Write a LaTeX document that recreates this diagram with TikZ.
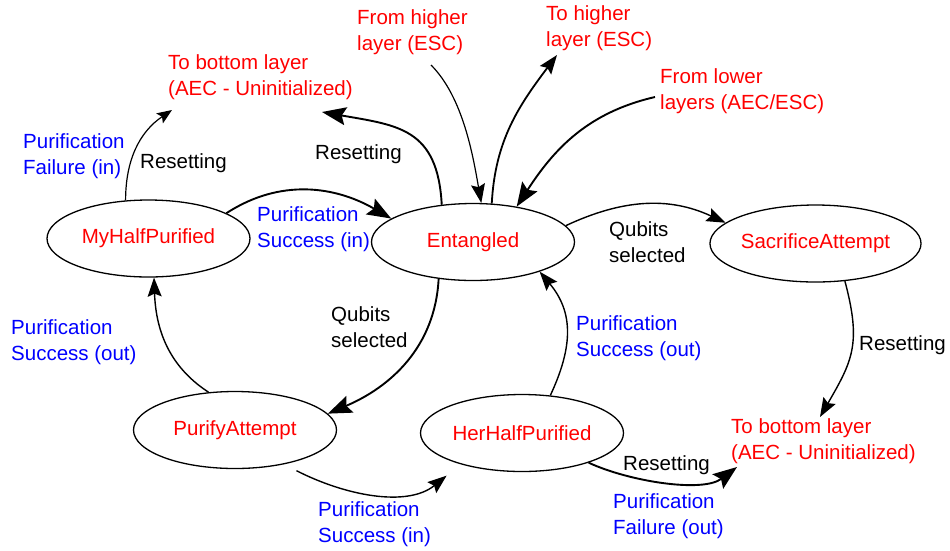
\documentclass[tikz,border=0pt]{standalone}
\usepackage{fontspec}
\setmainfont{Liberation Sans}
\usetikzlibrary{arrows.meta,shapes.geometric}
\begin{document}
\begin{tikzpicture}[x=1pt,y=-1pt,
  every node/.style={font=\fontsize{20.5}{26}\selectfont, inner sep=0pt},
  state/.style={ellipse, draw, line width=1.3pt, text=red,
    minimum width=203pt, minimum height=77pt},
  lbl/.style={anchor=west, align=left},
  ext/.style={lbl, text=red},
  ev/.style={lbl, text=blue},
  act/.style={lbl, text=black},
  light/.style={line width=1.2pt, -{Stealth[length=15pt,width=12pt,inset=3pt]}},
  flow/.style={line width=1.4pt, -{Stealth[length=19pt,width=14pt,inset=3pt]}},
  heavy/.style={line width=1.9pt, -{Stealth[length=24pt,width=18pt,inset=4pt]}}]

\useasboundingbox (0,0) rectangle (950,550);

% states
\node[state] (my)  at (148.5,238.5) {MyHalfPurified};
\node[state] (ent) at (473,242)     {Entangled};
\node[state] (sac) at (815.5,243.5) {SacrificeAttempt};
\node[state] (pa)  at (235,430)     {PurifyAttempt};
\node[state] (hhp) at (522,433)     {HerHalfPurified};

% links to other layers
\node[ext] (botL)   at (168,77)  {To bottom layer\\(AEC - Uninitialized)};
\node[ext] (fromHi) at (357,32)  {From higher\\layer (ESC)};
\node[ext] (toHi)   at (546,28)  {To higher\\layer (ESC)};
\node[ext] (fromLo) at (660,91)  {From lower\\layers (AEC/ESC)};
\node[ext] (botR)   at (731,441) {To bottom layer\\(AEC - Uninitialized)};

% purification events
\node[ev] (pfIn)    at (23,156)  {Purification\\Failure (in)};
\node[ev] (psInTop) at (257,229) {Purification\\Success (in)};
\node[ev] (psOutL)  at (11,342)  {Purification\\Success (out)};
\node[ev] (psOutM)  at (576,338) {Purification\\Success (out)};
\node[ev] (psInBot) at (318,524) {Purification\\Success (in)};
\node[ev] (pfOut)   at (613,516) {Purification\\Failure (out)};

% actions
\node[act] (rsA) at (140,163) {Resetting};
\node[act] (rsB) at (315,154) {Resetting};
\node[act] (qsA) at (609,242) {Qubits\\selected};
\node[act] (qsB) at (331,327) {Qubits\\selected};
\node[act] (rsC) at (859,345) {Resetting};
\node[act] (rsD) at (623,465) {Resetting};

% free ends next to the layer labels
\coordinate (tBotL1) at (172,110);
\coordinate (tBotL2) at (322,112);
\coordinate (sHi)    at (431,65);
\coordinate (tHi)    at (557,55);
\coordinate (sLo)    at (655,97);
\coordinate (tBotR1) at (820,417);
\coordinate (tBotR2) at (737,467);

% transitions
\draw[light] (my.121) to[out=90,in=214] (tBotL1);
\draw[heavy] (ent.130) to[out=93,in=-10,looseness=1.3] (tBotL2);
\draw[heavy] (my.18) to[out=33,in=150] (ent.164);
\draw[flow, line width=1.2pt] (sHi) to[out=-45,in=100,looseness=0.8] (ent.78);
\draw[flow, line width=1.8pt] (ent.64) to[out=87,in=233] (tHi);
\draw[heavy] (sLo) to[out=193,in=57] (ent.39);
\draw[flow] (ent.10) to[out=25,in=155] (sac.167);
\draw[flow] (sac.308) to[out=-75,in=60,looseness=1.2] (tBotR1);
\draw[heavy] (ent.227) to[out=-93,in=23] (pa.10);
\draw[flow] (pa.125) to[out=147,in=272] (my.278);
\draw[flow, shorten <=14pt, shorten >=18pt] (pa.-35) to[out=-27,in=219] (hhp.207);
\draw[flow] (hhp.53) to[out=65,in=310,looseness=1.1] (ent.336);
\draw[heavy] (hhp.-24) to[out=-25,in=217,looseness=0.75] (tBotR2);
\end{tikzpicture}
\end{document}
